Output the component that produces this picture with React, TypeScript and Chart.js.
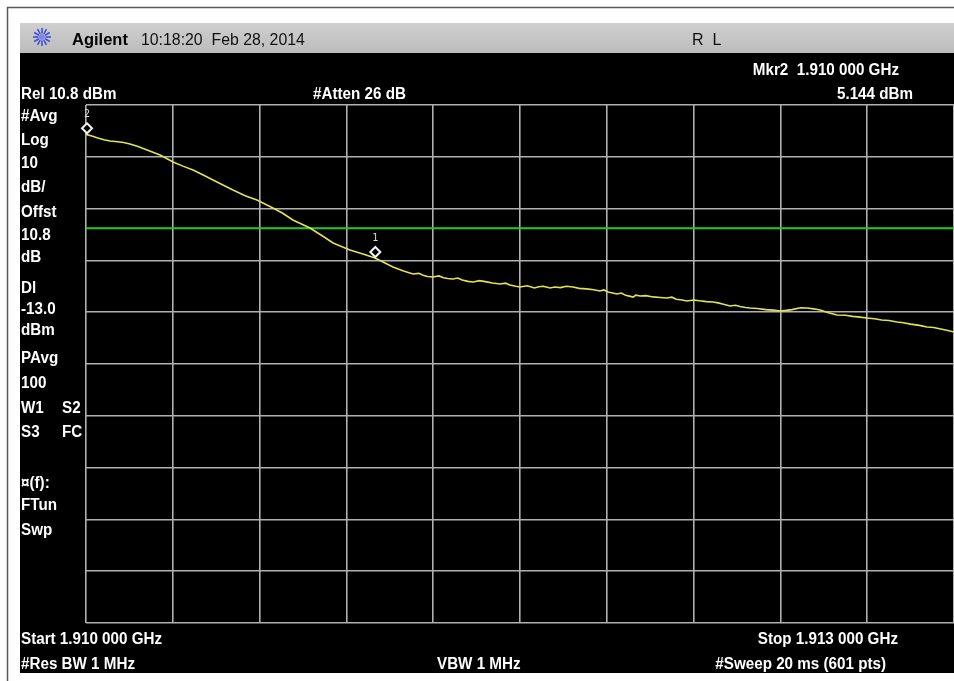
import React, { useEffect, useRef } from "react";
import { Chart, registerables } from "chart.js";

Chart.register(...registerables);

// ---- data ----
const freqMHz = [
  1910.0, 1910.02, 1910.041, 1910.062, 1910.083, 1910.11, 1910.13, 1910.152, 1910.18, 1910.211,
  1910.256, 1910.301, 1910.335, 1910.37, 1910.405, 1910.439, 1910.475, 1910.508, 1910.55, 1910.591,
  1910.646, 1910.68, 1910.715, 1910.774, 1910.815, 1910.854, 1910.912, 1910.96, 1910.999, 1911.03,
  1911.061, 1911.095, 1911.13, 1911.15, 1911.165, 1911.18, 1911.199, 1911.22, 1911.235, 1911.25,
  1911.268, 1911.285, 1911.3, 1911.32, 1911.338, 1911.36, 1911.38, 1911.405, 1911.431, 1911.45,
  1911.465, 1911.485, 1911.5, 1911.525, 1911.55, 1911.565, 1911.58, 1911.604, 1911.62, 1911.64,
  1911.66, 1911.683, 1911.705, 1911.73, 1911.755, 1911.776, 1911.79, 1911.805, 1911.82, 1911.835,
  1911.85, 1911.865, 1911.878, 1911.891, 1911.9, 1911.915, 1911.935, 1911.96, 1911.985, 1912.008,
  1912.025, 1912.04, 1912.06, 1912.077, 1912.1, 1912.12, 1912.145, 1912.167, 1912.185, 1912.2,
  1912.226, 1912.245, 1912.26, 1912.28, 1912.295, 1912.32, 1912.35, 1912.375, 1912.399, 1912.42,
  1912.44, 1912.47, 1912.492, 1912.515, 1912.537, 1912.566, 1912.596, 1912.625, 1912.65, 1912.675,
  1912.699, 1912.725, 1912.75, 1912.775, 1912.803, 1912.825, 1912.85, 1912.88, 1912.907, 1912.93,
  1912.95, 1912.975, 1913.0,
];
const levelDbm = [
  5.14, 4.8, 4.43, 4.1, 3.85, 3.7, 3.55, 3.27, 2.8, 2.11,
  1.15, -0.2, -1.0, -1.75, -2.7, -3.68, -4.7, -5.61, -6.7, -7.54,
  -9.08, -10.1, -11.4, -12.94, -14.4, -15.84, -17.19, -18.0, -18.74, -19.6,
  -20.47, -21.2, -21.83, -21.7, -22.05, -22.3, -22.4, -22.2, -22.55, -22.7,
  -22.79, -22.6, -23.0, -23.25, -23.37, -23.1, -23.3, -23.55, -23.76, -23.6,
  -23.95, -24.2, -24.34, -24.1, -24.53, -24.3, -24.2, -24.53, -24.35, -24.45,
  -24.2, -24.34, -24.6, -24.7, -24.85, -25.11, -24.9, -25.3, -25.5, -25.69,
  -25.5, -25.95, -26.1, -26.27, -25.9, -26.07, -26.0, -26.25, -26.35, -26.46,
  -26.3, -26.7, -26.85, -27.04, -26.85, -27.0, -27.15, -27.23, -27.4, -27.6,
  -28.0, -27.85, -28.1, -28.3, -28.39, -28.5, -28.7, -28.8, -28.97, -28.85,
  -28.7, -28.35, -28.39, -28.55, -28.78, -29.3, -29.74, -29.8, -30.0, -30.15,
  -30.32, -30.45, -30.7, -30.8, -31.09, -31.25, -31.5, -31.75, -32.06, -32.15,
  -32.4, -32.7, -33.02,
];
const xTicks = [1910.0, 1910.3, 1910.6, 1910.9, 1911.2, 1911.5, 1911.8, 1912.1, 1912.4, 1912.7, 1913.0];
const yTicks = [10.8, 0.8, -9.2, -19.2, -29.2, -39.2, -49.2, -59.2, -69.2, -79.2, -89.2];
const displayLineDbm = -13.0;
const markerNames = ["1", "2"];
const markerFreqs = [1911.0, 1910.0];
const markerLevels = [-18.74, 5.144];

const sideLabels = [
  "#Avg", "Log", "10", "dB/", "Offst", "10.8", "dB", "Dl", "-13.0", "dBm", "PAvg", "100",
  "W1", "S3", "¤(f):", "FTun", "Swp",
];
const sideLabelY = [115, 139, 162, 186, 211, 234, 256, 287, 308, 329, 357, 382, 407, 431, 482, 504, 529];

const BOLD = 'bold 16px "Liberation Sans", Arial, sans-serif';

function txt(
  ctx: CanvasRenderingContext2D,
  s: string,
  x: number,
  yMid: number,
  opts: { font?: string; color?: string; align?: CanvasTextAlign; sx?: number; cap?: number } = {}
) {
  const font = opts.font || BOLD;
  const sx = opts.sx ?? 0.95;
  const cap = opts.cap ?? 11.5;
  ctx.save();
  ctx.font = font;
  ctx.fillStyle = opts.color || "#ffffff";
  ctx.textBaseline = "alphabetic";
  const w = ctx.measureText(s).width * sx;
  let x0 = x;
  if (opts.align === "right") x0 = x - w;
  else if (opts.align === "center") x0 = x - w / 2;
  ctx.translate(x0, yMid + cap / 2);
  ctx.scale(sx, 1);
  ctx.textAlign = "left";
  ctx.fillText(s, 0, 0);
  ctx.restore();
}

const framePlugin = {
  id: "frame",
  beforeDraw(chart: any) {
    const ctx: CanvasRenderingContext2D = chart.ctx;
    const W = chart.width;
    const H = chart.height;
    ctx.save();
    ctx.fillStyle = "#ffffff";
    ctx.fillRect(0, 0, W, H);
    ctx.strokeStyle = "#5a5a5a";
    ctx.lineWidth = 1.5;
    ctx.beginPath();
    ctx.moveTo(7.5, H);
    ctx.lineTo(7.5, 7.5);
    ctx.lineTo(W, 7.5);
    ctx.stroke();
    const g = ctx.createLinearGradient(0, 23, 0, 53);
    g.addColorStop(0, "#cfcfcf");
    g.addColorStop(1, "#bcbcbc");
    ctx.fillStyle = g;
    ctx.fillRect(20, 23, W - 20, 30);
    ctx.fillStyle = "#000000";
    ctx.fillRect(20, 53, W - 20, 620);
    ctx.restore();
  },
  afterDraw(chart: any) {
    const ctx: CanvasRenderingContext2D = chart.ctx;
    const xs = chart.scales.x;
    const ys = chart.scales.y;
    ctx.save();
    const cx = 42, cy = 37;
    ctx.strokeStyle = "#3f4fd8";
    ctx.lineWidth = 1.6;
    for (let i = 0; i < 12; i++) {
      const a = (i * Math.PI) / 6;
      ctx.beginPath();
      ctx.moveTo(cx + Math.cos(a) * 3.5, cy + Math.sin(a) * 3.5);
      ctx.lineTo(cx + Math.cos(a) * 9, cy + Math.sin(a) * 9);
      ctx.stroke();
    }
    ctx.fillStyle = "#7f86e8";
    ctx.beginPath();
    ctx.arc(cx, cy, 3, 0, Math.PI * 2);
    ctx.fill();
    ctx.restore();

    txt(ctx, "Agilent", 72, 39, { font: 'bold 17px "Liberation Sans", Arial, sans-serif', color: "#000", sx: 0.97, cap: 12.5 });
    txt(ctx, "10:18:20  Feb 28, 2014", 141, 39, { font: '16px "Liberation Sans", Arial, sans-serif', color: "#111", sx: 0.99, cap: 11.5 });
    txt(ctx, "R  L", 692, 39, { font: '16px "Liberation Sans", Arial, sans-serif', color: "#111", sx: 1, cap: 11.5 });

    txt(ctx, "Mkr2  1.910 000 GHz", 899, 69, { align: "right" });
    txt(ctx, "Rel 10.8 dBm", 21, 93);
    txt(ctx, "#Atten 26 dB", 313, 93);
    txt(ctx, "5.144 dBm", 913, 93, { align: "right" });

    sideLabels.forEach((s, i) => txt(ctx, s, 21, sideLabelY[i]));
    txt(ctx, "S2", 62, sideLabelY[12]);
    txt(ctx, "FC", 62, sideLabelY[13]);

    txt(ctx, "Start 1.910 000 GHz", 21, 638);
    txt(ctx, "Stop 1.913 000 GHz", 898, 638, { align: "right" });
    txt(ctx, "#Res BW 1 MHz", 21, 663);
    txt(ctx, "VBW 1 MHz", 437, 663);
    txt(ctx, "#Sweep 20 ms (601 pts)", 886, 663, { align: "right" });

    ctx.save();
    markerNames.forEach((name, i) => {
      const px = xs.getPixelForValue(markerFreqs[i]) + (i === 1 ? 1 : 0);
      const py = ys.getPixelForValue(markerLevels[i]);
      const r = 5;
      const my = py - r - 1;
      ctx.beginPath();
      ctx.moveTo(px, my - r);
      ctx.lineTo(px + r, my);
      ctx.lineTo(px, my + r);
      ctx.lineTo(px - r, my);
      ctx.closePath();
      ctx.fillStyle = "#000";
      ctx.fill();
      ctx.strokeStyle = "#f2f2f2";
      ctx.lineWidth = 2;
      ctx.stroke();
      ctx.fillStyle = "#d8d8d8";
      ctx.font = '10px "DejaVu Sans Mono", monospace';
      ctx.textAlign = "center";
      ctx.textBaseline = "middle";
      ctx.fillText(name, px, my - r - 9);
    });
    ctx.restore();
  },
};

export default function App() {
  const ref = useRef<HTMLCanvasElement | null>(null);
  useEffect(() => {
    document.body.style.margin = "0";
    const canvas = ref.current;
    if (!canvas) return;
    const gridOpts = { color: "#b0b0b0", lineWidth: 1.6, drawTicks: false };
    const chart = new Chart(canvas, {
      type: "line",
      data: {
        datasets: [
          {
            label: "Trace",
            data: freqMHz.map((f, i) => ({ x: f, y: levelDbm[i] })),
            borderColor: "#e2e255",
            borderWidth: 1.6,
            pointRadius: 0,
            tension: 0,
          },
          {
            label: "Display line",
            data: [
              { x: xTicks[0], y: displayLineDbm },
              { x: xTicks[xTicks.length - 1], y: displayLineDbm },
            ],
            borderColor: "#22cc22",
            borderWidth: 2,
            pointRadius: 0,
          },
        ],
      },
      options: {
        responsive: false,
        animation: false,
        devicePixelRatio: 1,
        layout: { padding: { left: 86, top: 105, right: 0, bottom: 58 } },
        plugins: { legend: { display: false }, tooltip: { enabled: false } },
        scales: {
          x: {
            type: "linear",
            min: xTicks[0],
            max: xTicks[xTicks.length - 1],
            afterBuildTicks: (s: any) => {
              s.ticks = xTicks.map((v) => ({ value: v }));
            },
            ticks: { display: false },
            grid: gridOpts,
            border: { display: false },
          },
          y: {
            type: "linear",
            min: yTicks[yTicks.length - 1],
            max: yTicks[0],
            afterBuildTicks: (s: any) => {
              s.ticks = yTicks.map((v) => ({ value: v }));
            },
            ticks: { display: false },
            grid: gridOpts,
            border: { display: false },
          },
        },
      } as any,
      plugins: [framePlugin],
    });
    return () => chart.destroy();
  }, []);
  return (
    <div style={{ width: 954, height: 681, position: "relative" }}>
      <canvas ref={ref} width={954} height={681} style={{ display: "block" }} />
    </div>
  );
}
